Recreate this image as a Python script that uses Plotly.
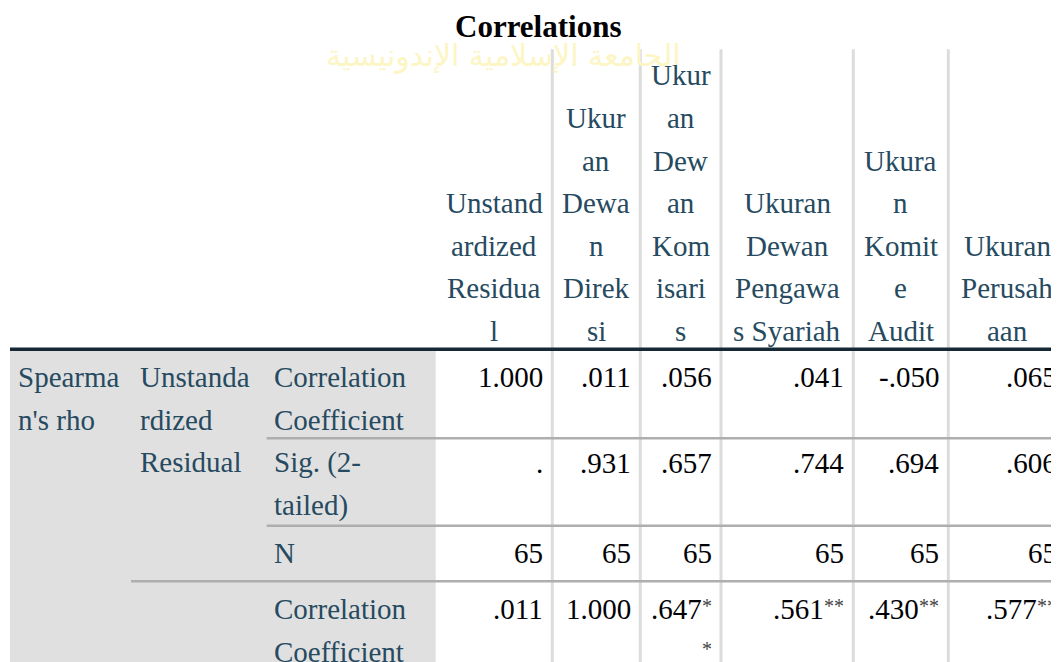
import plotly.graph_objects as go

# ---------------- data ----------------
title = "Correlations"
col_headers = [
    ["Unstand", "ardized", "Residua", "l"],
    ["Ukur", "an", "Dewa", "n", "Direk", "si"],
    ["Ukur", "an", "Dew", "an", "Kom", "isari", "s"],
    ["Ukuran", "Dewan", "Pengawa", "s Syariah"],
    ["Ukura", "n", "Komit", "e", "Audit"],
    ["Ukuran", "Perusah", "aan"],
]
method_label = ["Spearma", "n's rho"]
variable_label = ["Unstanda", "rdized", "Residual"]
stat_labels = [["Correlation", "Coefficient"], ["Sig. (2-", "tailed)"], ["N"],
               ["Correlation", "Coefficient"]]

corr_resid = [1.000, 0.011, 0.056, 0.041, -0.050, 0.065]
sig_resid = [None, 0.931, 0.657, 0.744, 0.694, 0.606]
n_resid = [65, 65, 65, 65, 65, 65]
corr_direksi = [0.011, 1.000, 0.647, 0.561, 0.430, 0.577]
flags_direksi = ["", "", "**", "**", "**", "**"]
watermark_text = "الجامعة الإسلامية الإندونيسية"

# ---------------- geometry / style ----------------
W, H = 1059, 662
OFF = 8      # page body margin
FONT = "Liberation Serif"
FS = 29
LABEL_C = "#264a60"
NUM_C = "#010205"
stub_edges = [10, 131, 266.7, 435.7]
col_edges = [435.7, 552.3, 640.3, 721, 853.3, 948.3, 1066.3]
pitch = 42.6
header_last_y = 331
vline_top = 49.3
header_rule_y = 349.3
row_first_y = [377, 462.5, 552.5, 609]
row_pitch = 42.5
row_rules = [(438.3, 266.7), (525.7, 266.7), (581.3, 131)]
pad = 7
lpad = 5.5
star_w = 10.2
SHIFT = 4    # keep annotation anchors inside the axis range
wrap_cells = {(3, 2)}


def fmt(v):
    if v is None:
        return "."
    if isinstance(v, int):
        return str(v)
    s = f"{v:.3f}"
    if s.startswith("0."):
        s = s[1:]
    elif s.startswith("-0."):
        s = "-" + s[2:]
    return s


fig = go.Figure()
fig.add_trace(go.Scatter(x=[OFF, W], y=[OFF, H], mode="markers",
                         marker=dict(opacity=0), hoverinfo="skip"))

shapes = []
ann = []

# faint watermark behind the title
ann.append(dict(x=503, y=56, text=watermark_text, showarrow=False, xanchor="center",
                yanchor="middle", font=dict(family="DejaVu Sans", size=30, color="#fcf5c4")))

# grey stub background
shapes.append(dict(type="rect", x0=stub_edges[0], x1=stub_edges[-1], y0=header_rule_y,
                   y1=H + 5, fillcolor="#e0e0e0", line=dict(width=0), layer="below"))

# vertical separators
for x in col_edges[1:-1]:
    shapes.append(dict(type="line", x0=x, x1=x, y0=vline_top, y1=H + 5,
                       line=dict(color="#dcdcdc", width=3)))
# horizontal row rules
for y, x0 in row_rules:
    shapes.append(dict(type="line", x0=x0, x1=W + 5, y0=y, y1=y,
                       line=dict(color="#aeaeae", width=2.5)))
# header rule
shapes.append(dict(type="line", x0=stub_edges[0], x1=W + 5, y0=header_rule_y,
                   y1=header_rule_y, line=dict(color="#152935", width=3.5)))

# title
ann.append(dict(x=537.7, y=26.7, text=f"<b>{title}</b>", showarrow=False, xanchor="center",
                yanchor="middle", font=dict(family=FONT, size=31, color="#000000")))

# column headers
for j, lines in enumerate(col_headers):
    cx = (col_edges[j] + col_edges[j + 1]) / 2
    n = len(lines)
    for i, t in enumerate(lines):
        y = header_last_y - (n - 1 - i) * pitch
        ann.append(dict(x=cx, y=y, text=t, showarrow=False, xanchor="center", yanchor="middle",
                        font=dict(family=FONT, size=FS, color=LABEL_C)))


# stub labels
def add_label(x, y, t):
    ann.append(dict(x=x, y=y, text=t, showarrow=False, xanchor="left", yanchor="middle",
                    font=dict(family=FONT, size=FS, color=LABEL_C)))


for i, t in enumerate(method_label):
    add_label(stub_edges[0] + lpad, row_first_y[0] + i * row_pitch, t)
for i, t in enumerate(variable_label):
    add_label(stub_edges[1] + lpad + 1, row_first_y[0] + i * row_pitch, t)
for r, lines in enumerate(stat_labels):
    for i, t in enumerate(lines):
        add_label(stub_edges[2] + lpad, row_first_y[r] + i * row_pitch, t)

# numbers
rows = [
    ([fmt(v) for v in corr_resid], [""] * 6),
    ([fmt(v) for v in sig_resid], [""] * 6),
    ([fmt(v) for v in n_resid], [""] * 6),
    ([fmt(v) for v in corr_direksi], flags_direksi),
]


def add_num(x, y, t):
    ann.append(dict(x=x - SHIFT, xshift=SHIFT, y=y, text=t, showarrow=False, xanchor="right",
                    yanchor="middle", font=dict(family=FONT, size=FS, color=NUM_C)))


def add_star(x, y, t):
    ann.append(dict(x=x - SHIFT, xshift=SHIFT, y=y - 3, text=t, showarrow=False,
                    xanchor="right", yanchor="middle",
                    font=dict(family=FONT, size=20, color="#444444")))


for r, (vals, flags) in enumerate(rows):
    y = row_first_y[r]
    for j, (v, f) in enumerate(zip(vals, flags)):
        right = col_edges[j + 1] - pad
        if not f:
            add_num(right, y, v)
        elif (r, j) in wrap_cells:
            add_num(right - star_w * (len(f) - 1), y, v)
            add_star(right, y, f[:-1])
            add_star(right, y + row_pitch, f[-1])
        else:
            add_num(right - star_w * len(f), y, v)
            add_star(right, y, f)

fig.update_layout(
    width=W - OFF, height=H - OFF, margin=dict(l=0, r=0, t=0, b=0),
    paper_bgcolor="white", plot_bgcolor="white", showlegend=False,
    xaxis=dict(range=[OFF, W], visible=False, fixedrange=True),
    yaxis=dict(range=[H, OFF], visible=False, fixedrange=True),
    shapes=shapes, annotations=ann,
)
fig.write_html("out.html", config={"displayModeBar": False})
